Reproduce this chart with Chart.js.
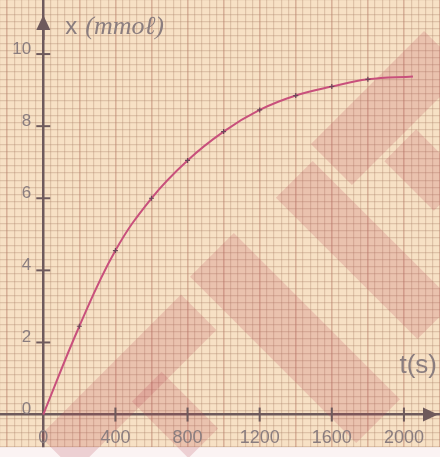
<!DOCTYPE html>
<html>
<head>
<meta charset="utf-8">
<script src="https://cdn.jsdelivr.net/npm/chart.js@4"></script>
<style>
  html, body { margin: 0; padding: 0; background: #fbf3f3; }
  #wrap { width: 440px; height: 457px; }
</style>
</head>
<body>
<div id="wrap"><canvas id="chart"></canvas></div>
<script>
// measured points (t in s, x in mmol), last one is the end of the drawn curve
var times = [0, 200, 400, 600, 800, 1000, 1200, 1400, 1600, 1800, 2050];
var amounts = [0, 2.45, 4.55, 6.0, 7.05, 7.85, 8.45, 8.85, 9.1, 9.3, 9.38];
var xTickLabels = [0, 400, 800, 1200, 1600, 2000];
var yTickLabels = [0, 2, 4, 6, 8, 10];

var PAPER = '#f7e1c5';
var FINE = 'rgba(170, 130, 105, 0.32)';
var MAJOR_H = 'rgba(215, 115, 95, 0.55)';
var MAJOR_V = 'rgba(180, 120, 100, 0.45)';
var AXIS = '#6e5a5c';
var TEXT = '#8a7d7f';

function near(v, step) {
  var r = v / step;
  return Math.abs(r - Math.round(r)) < 1e-6;
}

// paper colour, watermark, axis arrows, tick marks, labels and titles
var paperPlugin = {
  id: 'paper',
  beforeDraw: function (chart) {
    var c = chart.ctx, a = chart.chartArea;
    c.save();
    c.fillStyle = PAPER;
    c.fillRect(a.left, a.top, a.right - a.left, a.bottom - a.top);
    c.restore();
  },
  beforeDatasetsDraw: function (chart) {
    var c = chart.ctx;
    // pink diagonal watermark bands: cx, cy, length, width, angle
    var bands = [
      [128, 383, 200, 50, -45],
      [175, 415, 80, 42, 45],
      [295, 338, 235, 62, 45],
      [365, 250, 200, 52, 45],
      [388, 108, 160, 58, -45],
      [425, 170, 70, 45, 45]
    ];
    c.save();
    c.fillStyle = 'rgba(185, 70, 85, 0.2)';
    bands.forEach(function (b) {
      c.save();
      c.translate(b[0], b[1]);
      c.rotate(b[4] * Math.PI / 180);
      c.fillRect(-b[2] / 2, -b[3] / 2, b[2], b[3]);
      c.restore();
    });
    c.restore();
  },
  afterDraw: function (chart) {
    var c = chart.ctx;
    var xs = chart.scales.x, ys = chart.scales.y;
    var x0 = xs.getPixelForValue(0), y0 = ys.getPixelForValue(0);
    c.save();
    c.fillStyle = AXIS;
    c.strokeStyle = AXIS;
    c.lineWidth = 2;
    // tick marks across the axes
    xTickLabels.forEach(function (v) {
      if (v === 0) return;
      var px = xs.getPixelForValue(v);
      c.beginPath(); c.moveTo(px, y0 - 7); c.lineTo(px, y0 + 7); c.stroke();
    });
    yTickLabels.forEach(function (v) {
      if (v === 0) return;
      var py = ys.getPixelForValue(v);
      c.beginPath(); c.moveTo(x0 - 7, py); c.lineTo(x0 + 7, py); c.stroke();
    });
    // y axis extension + arrow
    c.lineWidth = 2.5;
    c.beginPath();
    c.moveTo(x0, ys.top + 40);
    c.lineTo(x0, ys.top + 26);
    c.stroke();
    c.beginPath();
    c.moveTo(x0, ys.top + 15);
    c.lineTo(x0 - 7, ys.top + 30);
    c.lineTo(x0 + 7, ys.top + 30);
    c.closePath();
    c.fill();
    // x arrow
    c.beginPath();
    c.moveTo(xs.right - 2, y0);
    c.lineTo(xs.right - 17, y0 - 7);
    c.lineTo(xs.right - 17, y0 + 7);
    c.closePath();
    c.fill();
    // tick labels
    c.fillStyle = TEXT;
    c.textBaseline = 'middle';
    c.textAlign = 'center';
    c.font = '18px "Liberation Sans", Arial, sans-serif';
    xTickLabels.forEach(function (v) {
      c.fillText(String(v), xs.getPixelForValue(v), y0 + 23);
    });
    c.textAlign = 'right';
    c.font = '17px "Liberation Sans", Arial, sans-serif';
    yTickLabels.forEach(function (v) {
      c.fillText(String(v), x0 - 12, ys.getPixelForValue(v) - 5);
    });
    // axis titles
    c.textAlign = 'left';
    c.textBaseline = 'alphabetic';
    c.font = '24px "Liberation Sans", Arial, sans-serif';
    c.fillText('x', x0 + 22, ys.top + 34);
    c.font = 'italic 26px "Liberation Serif", "DejaVu Serif", serif';
    c.fillText('(mmoℓ)', x0 + 42, ys.top + 34);
    c.font = '26px "Liberation Sans", Arial, sans-serif';
    c.textAlign = 'right';
    c.fillText('t(s)', xs.right - 3, ys.getPixelForValue(1.15));
    c.restore();
  }
};

new Chart(document.getElementById('chart'), {
  type: 'line',
  data: {
    datasets: [{
      data: times.map(function (t, i) { return { x: t, y: amounts[i] }; }),
      borderColor: '#c8507c',
      borderWidth: 2,
      tension: 0.4,
      pointStyle: 'cross',
      pointRadius: function (ctx) { return ctx.dataIndex === times.length - 1 || ctx.dataIndex === 0 ? 0 : 2.5; },
      pointBorderColor: '#6a4658',
      pointBorderWidth: 1.2
    }]
  },
  options: {
    responsive: true,
    maintainAspectRatio: false,
    animation: false,
    layout: { padding: { left: 0, right: 0, top: 0, bottom: 10 } },
    plugins: { legend: { display: false }, tooltip: { enabled: false } },
    scales: {
      x: {
        type: 'linear',
        position: { y: 0 },
        min: -240,
        max: 2200,
        border: { color: AXIS, width: 2.5 },
        grid: {
          color: function (ctx) { return near(ctx.tick.value, 200) ? MAJOR_V : FINE; },
          lineWidth: function (ctx) { return near(ctx.tick.value, 200) ? 1.6 : 1.2; },
          drawTicks: false
        },
        ticks: { stepSize: 40, autoSkip: false, display: false }
      },
      y: {
        type: 'linear',
        position: { x: 0 },
        min: -0.9,
        max: 11.5,
        border: { color: AXIS, width: 2.5 },
        grid: {
          color: function (ctx) { return near(ctx.tick.value, 1) ? MAJOR_H : FINE; },
          lineWidth: function (ctx) { return near(ctx.tick.value, 1) ? 2 : 1.2; },
          drawTicks: false
        },
        ticks: { stepSize: 0.2, autoSkip: false, display: false }
      }
    }
  },
  plugins: [paperPlugin]
});
</script>
</body>
</html>
